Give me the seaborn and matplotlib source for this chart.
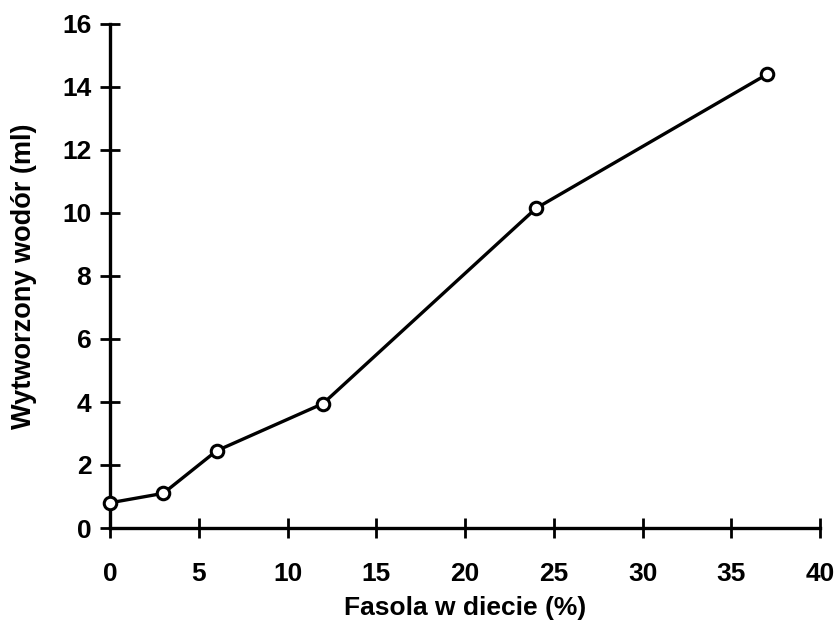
import numpy as np
import pandas as pd
import matplotlib
matplotlib.use("Agg")
import matplotlib.pyplot as plt
import seaborn as sns

# Data
fasola_pct = [0, 3, 6, 12, 24, 37]
wodor_ml = [0.8, 1.1, 2.45, 3.95, 10.15, 14.4]

x_ticks = [0, 5, 10, 15, 20, 25, 30, 35, 40]
y_ticks = [0, 2, 4, 6, 8, 10, 12, 14, 16]

sns.set_theme(style="ticks")
plt.rcParams['font.family'] = ['Liberation Sans', 'DejaVu Sans']
plt.rcParams['text.color'] = 'black'
plt.rcParams['axes.labelcolor'] = 'black'
plt.rcParams['xtick.color'] = 'black'
plt.rcParams['ytick.color'] = 'black'

df = pd.DataFrame({'fasola': fasola_pct, 'wodor': wodor_ml})

fig = plt.figure(figsize=(8.36, 6.4), dpi=100)
ax = fig.add_axes([0.1316, 0.175, 0.981 - 0.1316, 0.9625 - 0.175])

sns.lineplot(data=df, x='fasola', y='wodor', ax=ax, color='black', linewidth=2.4,
             marker='o', markersize=9, markerfacecolor='white',
             markeredgecolor='black', markeredgewidth=2.2, clip_on=False, zorder=5)

ax.set_xlim(0, 40)
ax.set_ylim(0, 16)
ax.set_xticks(x_ticks)
ax.set_yticks(y_ticks)
ax.tick_params(direction='inout', length=15, width=2, labelsize=19)
ax.tick_params(axis='x', pad=17)
ax.tick_params(axis='y', pad=6)
for lbl in ax.get_xticklabels() + ax.get_yticklabels():
    lbl.set_fontweight('bold')

for side in ['top', 'right']:
    ax.spines[side].set_visible(False)
for side in ['left', 'bottom']:
    ax.spines[side].set_linewidth(2.4)
    ax.spines[side].set_color('black')

ax.set_xlabel("Fasola w diecie (%)", fontsize=19, fontweight='bold')
ax.set_ylabel("Wytworzony wodór (ml)", fontsize=19.5, fontweight='bold')
ax.xaxis.set_label_coords(0.5, -0.135)
ax.yaxis.set_label_coords(-0.103, 0.5)

fig.savefig("out.png", dpi=100)
